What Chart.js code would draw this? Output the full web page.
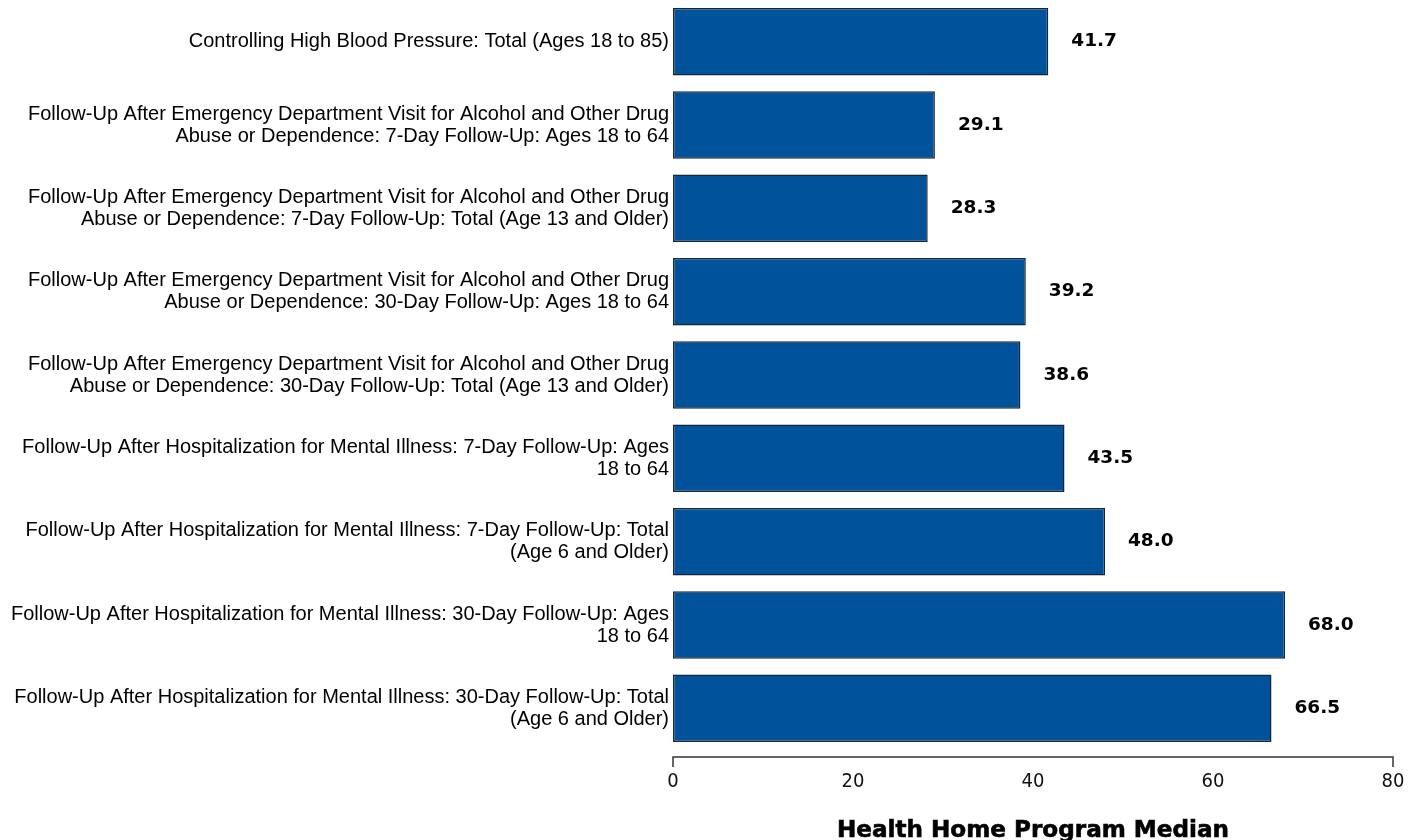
<!DOCTYPE html>
<html>
<head>
<meta charset="utf-8">
<script src="https://cdn.jsdelivr.net/npm/chart.js@4.4.1/dist/chart.umd.min.js"></script>
<style>
html,body{margin:0;padding:0;background:#fff;}
#wrap{width:1409px;height:840px;position:relative;}
</style>
</head>
<body>
<div id="wrap"><canvas id="c" width="1409" height="840"></canvas></div>
<script>
const categories = [
  ["Controlling High Blood Pressure: Total (Ages 18 to 85)"],
  ["Follow-Up After Emergency Department Visit for Alcohol and Other Drug", "Abuse or Dependence: 7-Day Follow-Up: Ages 18 to 64"],
  ["Follow-Up After Emergency Department Visit for Alcohol and Other Drug", "Abuse or Dependence: 7-Day Follow-Up: Total (Age 13 and Older)"],
  ["Follow-Up After Emergency Department Visit for Alcohol and Other Drug", "Abuse or Dependence: 30-Day Follow-Up: Ages 18 to 64"],
  ["Follow-Up After Emergency Department Visit for Alcohol and Other Drug", "Abuse or Dependence: 30-Day Follow-Up: Total (Age 13 and Older)"],
  ["Follow-Up After Hospitalization for Mental Illness: 7-Day Follow-Up: Ages", "18 to 64"],
  ["Follow-Up After Hospitalization for Mental Illness: 7-Day Follow-Up: Total", "(Age 6 and Older)"],
  ["Follow-Up After Hospitalization for Mental Illness: 30-Day Follow-Up: Ages", "18 to 64"],
  ["Follow-Up After Hospitalization for Mental Illness: 30-Day Follow-Up: Total", "(Age 6 and Older)"]
];
const medianValues = [41.7, 29.1, 28.3, 39.2, 38.6, 43.5, 48.0, 68.0, 66.5];
const xTicks = [0, 20, 40, 60, 80];
const axisTitle = "Health Home Program Median";

const valueLabels = {
  id: 'valueLabels',
  afterDatasetsDraw(chart) {
    const ctx = chart.ctx;
    const meta = chart.getDatasetMeta(0);
    ctx.save();
    ctx.font = 'bold 18.5px "DejaVu Sans"';
    ctx.fillStyle = '#000';
    ctx.textAlign = 'left';
    ctx.textBaseline = 'middle';
    meta.data.forEach((bar, i) => {
      ctx.fillText(medianValues[i].toFixed(1), bar.x + 23, bar.y);
    });
    ctx.restore();
  }
};

const axisLine = {
  id: 'axisLine',
  afterDraw(chart) {
    const ctx = chart.ctx;
    const xs = chart.scales.x;
    const ca = chart.chartArea;
    const y = ca.bottom + 7;
    const x0 = xs.getPixelForValue(xTicks[0]);
    const x1 = xs.getPixelForValue(xTicks[xTicks.length - 1]);
    ctx.save();
    ctx.strokeStyle = '#333';
    ctx.lineWidth = 1.5;
    ctx.beginPath();
    ctx.moveTo(x0, y + 10);
    ctx.lineTo(x0, y);
    ctx.lineTo(x1, y);
    ctx.lineTo(x1, y + 10);
    ctx.stroke();
    // axis title, centred under the plot area
    ctx.font = 'bold 23px "DejaVu Sans"';
    const w = ctx.measureText(axisTitle).width;
    const sx = Math.min(1.1, Math.max(0.9, 392 / w));
    ctx.translate((ca.left + ca.right) / 2, 837);
    ctx.scale(sx, 1);
    ctx.fillStyle = '#000';
    ctx.strokeStyle = '#000';
    ctx.lineWidth = 0.6;
    ctx.textAlign = 'center';
    ctx.textBaseline = 'alphabetic';
    ctx.fillText(axisTitle, 0, 0);
    ctx.strokeText(axisTitle, 0, 0);
    ctx.restore();
  }
};

new Chart(document.getElementById('c'), {
  type: 'bar',
  data: {
    labels: categories,
    datasets: [{
      data: medianValues,
      backgroundColor: '#00539B',
      borderColor: '#15253a',
      borderWidth: 1.5,
      borderSkipped: false,
      barPercentage: 0.81,
      categoryPercentage: 1.0
    }]
  },
  options: {
    indexAxis: 'y',
    responsive: false,
    animation: false,
    layout: { padding: { left: 0, right: 16, top: 0, bottom: 0 } },
    plugins: { legend: { display: false }, tooltip: { enabled: false } },
    scales: {
      x: {
        min: 0, max: 80,
        afterBuildTicks(scale) { scale.ticks = xTicks.map(v => ({ value: v })); },
        grid: { display: false, drawTicks: false },
        border: { display: false },
        ticks: {
          padding: 20,
          color: '#111',
          font: { family: '"DejaVu Sans Condensed"', size: 20 }
        },
        title: { display: false },
        afterFit(scale) { scale.height = 90; scale.paddingLeft = 0; scale.paddingRight = 0; }
      },
      y: {
        grid: { display: false, drawTicks: false },
        border: { display: false },
        ticks: {
          padding: 4,
          color: '#000',
          font: { family: '"Liberation Sans"', size: 20, lineHeight: 1.1 }
        },
        afterFit(scale) { scale.width = 673; scale.paddingTop = 0; scale.paddingBottom = 0; }
      }
    }
  },
  plugins: [valueLabels, axisLine]
});
</script>
</body>
</html>
